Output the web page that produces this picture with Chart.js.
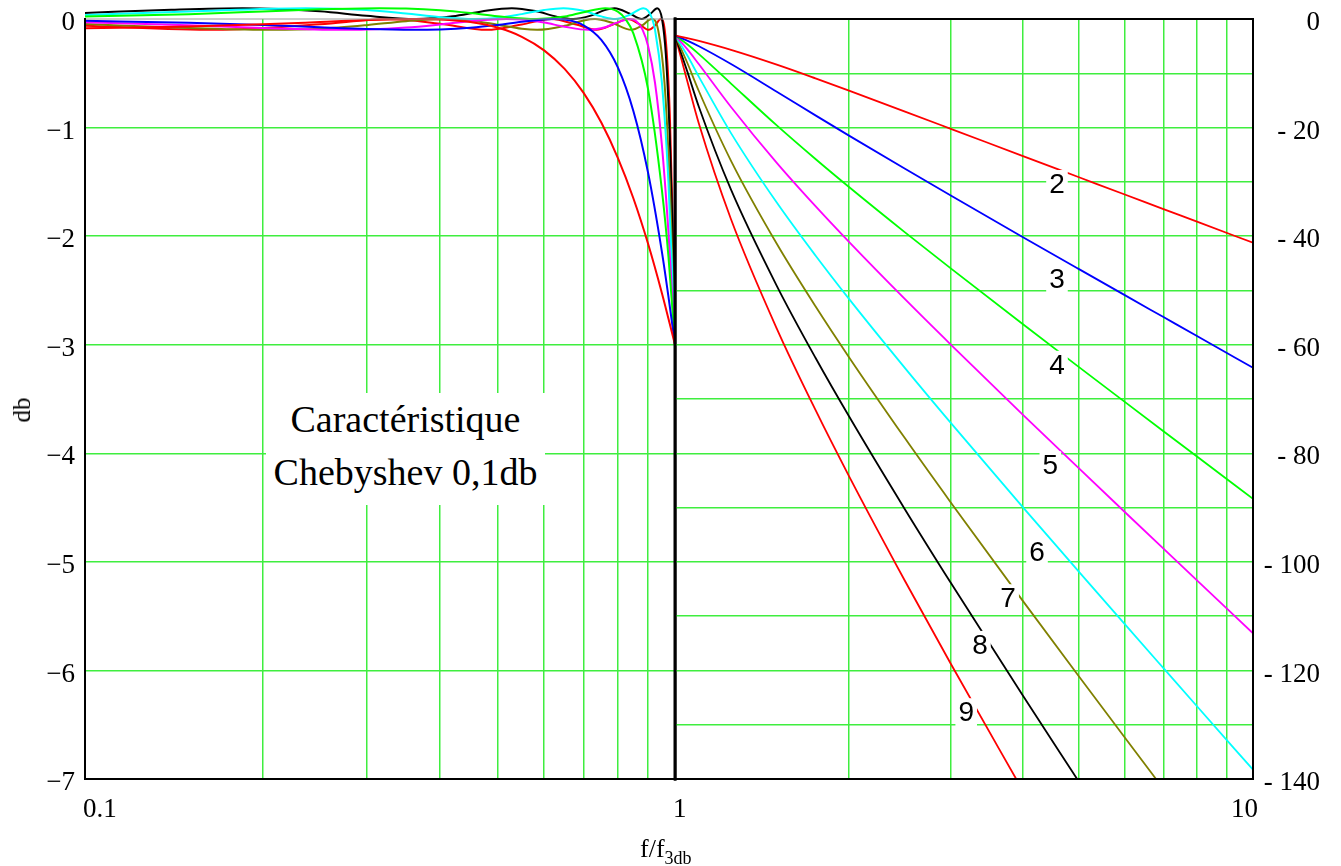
<!DOCTYPE html>
<html><head><meta charset="utf-8">
<script src="https://cdn.jsdelivr.net/npm/chart.js@4.4.1/dist/chart.umd.min.js"></script>
<style>
html,body{margin:0;padding:0;background:#fff;}
#wrap{position:relative;width:1341px;height:866px;overflow:hidden;background:#fff;}
canvas{position:absolute;top:0;}
#cl{left:0;width:700px;height:866px;}
#cr{left:674px;width:667px;height:866px;}
.t{position:absolute;font-family:'Liberation Serif','Times New Roman',serif;color:#000;white-space:nowrap;}
#note{left:266px;top:393px;width:279px;height:112px;background:#fff;text-align:center;font-size:38px;line-height:53px;}
#ytitle{left:22px;top:410px;font-size:25px;line-height:30px;transform:translate(-50%,-50%) rotate(-90deg);}
#xtitle{left:640px;top:834px;font-size:26px;line-height:30px;}
#xtitle span{font-size:18px;position:relative;top:7px;}
</style></head>
<body><div id="wrap">
<canvas id="cl" width="700" height="866"></canvas>
<canvas id="cr" width="667" height="866"></canvas>
<div class="t" id="note">Caractéristique<br>Chebyshev 0,1db</div>
<div class="t" id="ytitle">db</div>
<div class="t" id="xtitle">f/f<span>3db</span></div>
</div>
<script>
// ---------- tick values / labels ----------
const leftFreqTicks  = [0.1,0.2,0.3,0.4,0.5,0.6,0.7,0.8,0.9,1];
const leftFreqLabels = ['0.1','','','','','','','','','1'];
const leftDbTicks    = [-7,-6,-5,-4,-3,-2,-1,0];
const leftDbLabels   = ['−7','−6','−5','−4','−3','−2','−1','0'];
const rightFreqTicks  = [1,2,3,4,5,6,7,8,9,10];
const rightFreqLabels = ['','','','','','','','','','10'];
const rightDbTicks    = [0,10,20,30,40,50,60,70,80,90,100,110,120,130,140];
const rightDbLabels   = ['0','','- 20','','- 40','','- 60','','- 80','','- 100','','- 120','','- 140'];

// ---------- series (filter orders) ----------
const orders = ['2','3','4','5','6','7','8','9'];
const colors = ['#ff0000','#0000ff','#00ff00','#ff00ff','#00ffff','#808000','#000000','#ff0000'];

// left panel: f/f3db (0.1..1) and gain in dB
const fL2 = [0.1,0.15,0.2,0.25,0.3,0.364,0.4,0.45,0.5,0.55,0.6,0.65,0.7,0.75,0.8,0.85,0.9,0.95,1];
const gL2 = [-0.086,-0.069,-0.049,-0.028,-0.010,0,-0.004,-0.028,-0.079,-0.164,-0.289,-0.46,-0.681,-0.954,-1.279,-1.651,-2.068,-2.523,-3.0];
const fL3 = [0.1,0.15,0.2,0.25,0.3,0.36,0.4,0.45,0.5,0.55,0.6235,0.65,0.7,0.75,0.8,0.85,0.9,0.95,0.975,1];
const gL3 = [-0.016,-0.035,-0.055,-0.077,-0.093,-0.100,-0.096,-0.081,-0.056,-0.026,0,-0.005,-0.058,-0.193,-0.446,-0.847,-1.413,-2.142,-2.561,-3.0];
const fL4 = [0.1,0.15,0.2,0.25,0.3154,0.35,0.4,0.45,0.5,0.5828,0.65,0.7,0.7615,0.8,0.824,0.85,0.9,0.95,0.975,1];
const gL4 = [0.022,0.044,0.069,0.089,0.100,0.097,0.081,0.055,0.026,0,0.022,0.063,0.100,0.068,0,-0.133,-0.644,-1.572,-2.196,-3.0];
const fL5 = [0.1,0.15,0.2,0.2723,0.3,0.35,0.4,0.45,0.518,0.55,0.6,0.65,0.713,0.75,0.8,0.8382,0.86,0.8813,0.9,0.925,0.95,0.975,1];
const gL5 = [-0.029,-0.057,-0.083,-0.100,-0.097,-0.079,-0.050,-0.020,0,-0.005,-0.033,-0.071,-0.100,-0.086,-0.031,0,-0.020,-0.100,-0.246,-0.589,-1.160,-1.974,-3.0];
const fL6 = [0.1,0.15,0.2368,0.3,0.35,0.4,0.4575,0.5,0.55,0.6,0.647,0.7,0.75,0.7924,0.84,0.8838,0.9,0.915,0.925,0.95,0.975,1];
const gL6 = [0.037,0.070,0.100,0.082,0.050,0.017,0,0.010,0.045,0.083,0.100,0.076,0.024,0,0.041,0.100,0.078,0,-0.099,-0.581,-1.514,-3.0];
const fL7 = [0.1,0.15,0.2083,0.25,0.3,0.35,0.4063,0.45,0.5,0.55,0.5838,0.65,0.7,0.732,0.78,0.8436,0.88,0.9128,0.9363,0.96,0.98,1];
const gL7 = [-0.047,-0.082,-0.100,-0.090,-0.057,-0.020,0,-0.013,-0.052,-0.090,-0.100,-0.063,-0.013,0,-0.033,-0.100,-0.059,0,-0.100,-0.592,-1.532,-3.0];
const fL8 = [0.1,0.14,0.185,0.25,0.3,0.364,0.42,0.47,0.529,0.58,0.63,0.672,0.72,0.76,0.79,0.84,0.878,0.91,0.933,0.9507,0.965,0.98,0.99,1];
const gL8 = [0.056,0.086,0.100,0.072,0.029,0,0.025,0.070,0.100,0.073,0.022,0,0.031,0.082,0.100,0.047,0,0.051,0.100,0,-0.332,-1.101,-1.898,-3.0];
const fL9 = [0.1,0.1668,0.25,0.3286,0.4,0.4804,0.55,0.6175,0.68,0.7359,0.79,0.832,0.87,0.9028,0.925,0.946,0.9607,0.98,0.99,1];
const gL9 = [-0.063,-0.100,-0.049,0,-0.044,-0.100,-0.051,0,-0.051,-0.100,-0.045,0,-0.048,-0.100,-0.061,0,-0.100,-0.881,-1.767,-3.0];

// right panel: f/f3db (1..10) and attenuation in dB
const fR  = [1,1.05,1.1,1.25,1.5,1.75,2,2.5,3,4,5,6,7,8,10];
const aR2 = [3.01,3.52,4.05,5.70,8.42,10.94,13.20,17.05,20.23,25.26,29.15,32.33,35.01,37.34,41.22];
const aR3 = [3.01,3.99,5.03,8.30,13.40,17.75,21.48,27.60,32.52,40.19,46.08,50.87,54.91,58.41,64.24];
const aR4 = [3.01,4.66,6.46,11.89,19.60,25.79,30.95,39.30,45.94,56.24,64.13,70.53,75.93,80.60,88.39];
const aR5 = [3.01,5.55,8.34,16.21,26.51,34.49,41.06,51.62,59.98,72.91,82.79,90.82,97.58,103.42,113.15];
const aR6 = [3.01,6.69,10.65,21.02,33.82,43.57,51.56,64.31,74.40,89.95,101.83,111.48,119.59,126.60,138.29];
const aR7 = [3.01,8.06,13.31,26.12,41.40,52.91,62.29,77.25,89.05,107.23,121.11,132.36,141.83];
const aR8 = [3.01,9.65,16.21,31.44,49.15,62.41,73.19,90.34,103.86,124.66,140.53];
const aR9 = [3.01,11.43,19.31,36.89,57.03,72.02,84.20,103.53,118.77,142.19];

// curve number labels (anchored in right-panel data coordinates)
const labelText = ['2','3','4','5','6','7','8','9'];
const labelF    = [4.58,4.58,4.58,4.46,4.23,3.77,3.37,3.19];
const labelDb   = [30.4,47.9,63.7,82.2,98.2,106.7,115.3,127.7];

// ---------- build ----------
const GRID = '#3fee3f';
const SERIF = "'Liberation Serif','Times New Roman',serif";
const leftF = [fL2,fL3,fL4,fL5,fL6,fL7,fL8,fL9];
const leftG = [gL2,gL3,gL4,gL5,gL6,gL7,gL8,gL9];
const rightA = [aR2,aR3,aR4,aR5,aR6,aR7,aR8,aR9];

function makeFrame(edges){
  return {
    id:'frame',
    afterDatasetsDraw(chart){
      const a = chart.chartArea, ctx = chart.ctx;
      ctx.save();
      edges.forEach(([side,color,w])=>{
        ctx.beginPath(); ctx.strokeStyle=color; ctx.lineWidth=w; ctx.lineCap='square';
        if(side==='top'){ctx.moveTo(a.left,a.top);ctx.lineTo(a.right,a.top);}
        if(side==='bottom'){ctx.moveTo(a.left,a.bottom);ctx.lineTo(a.right,a.bottom);}
        if(side==='left'){ctx.moveTo(a.left,a.top);ctx.lineTo(a.left,a.bottom);}
        if(side==='right'){ctx.moveTo(a.right,a.top);ctx.lineTo(a.right,a.bottom);}
        ctx.stroke();
      });
      ctx.restore();
    }
  };
}

const curveLabels = {
  id:'curveLabels',
  afterDatasetsDraw(chart){
    const ctx = chart.ctx, xs = chart.scales.x, ys = chart.scales.y;
    ctx.save();
    ctx.font = "28px 'Liberation Sans', Arial, sans-serif";
    ctx.textAlign='center'; ctx.textBaseline='middle';
    labelText.forEach((t,i)=>{
      const px = xs.getPixelForValue(labelF[i]), py = ys.getPixelForValue(labelDb[i]);
      const w = ctx.measureText(t).width;
      ctx.fillStyle='#fff'; ctx.fillRect(px-w/2-3, py-14, w+6, 28);
      ctx.fillStyle='#000'; ctx.fillText(t, px, py+1);
    });
    ctx.restore();
  }
};

function gridColor(hidden){
  return c => (c.tick && hidden.includes(c.tick.value)) ? 'rgba(0,0,0,0)' : GRID;
}
function noPad(s){ s.paddingTop=0; s.paddingBottom=0; s.paddingLeft=0; s.paddingRight=0; }
const tickFont = {family:SERIF, size:27};

new Chart(document.getElementById('cl'), {
  type:'line',
  data:{datasets: orders.map((o,k)=>({
    label:'n='+o,
    data: leftF[k].map((f,i)=>({x:f, y:leftG[k][i]})),
    borderColor: colors[k], borderWidth:2, pointRadius:0, fill:false,
    cubicInterpolationMode:'monotone', clip:15
  }))},
  options:{
    responsive:false, animation:false, devicePixelRatio:1, events:[],
    layout:{padding:{left:0,right:25,top:19,bottom:0}},
    plugins:{legend:{display:false}, tooltip:{enabled:false}},
    scales:{
      x:{type:'logarithmic', min:0.1, max:1,
        afterBuildTicks:s=>{s.ticks = leftFreqTicks.map(v=>({value:v}));},
        afterFit:s=>{s.height=87; noPad(s);},
        grid:{drawTicks:false, color:gridColor([0.1,1]), lineWidth:1.5},
        border:{display:false},
        ticks:{autoSkip:false, maxRotation:0, minRotation:0, align:'start', padding:15, labelOffset:-2, color:'#000', font:tickFont,
          callback:(v,i)=>leftFreqLabels[i] ?? ''}},
      y:{type:'linear', min:-7, max:0,
        afterBuildTicks:s=>{s.ticks = leftDbTicks.map(v=>({value:v}));},
        afterFit:s=>{s.width=85; noPad(s);},
        grid:{drawTicks:false, color:gridColor([0,-7]), lineWidth:1.5},
        border:{display:false},
        ticks:{autoSkip:false, padding:10, labelOffset:4, color:'#000', font:tickFont,
          callback:(v,i)=>leftDbLabels[i] ?? ''}}
    }
  },
  plugins:[makeFrame([['top','#9a9a9a',1],['left','#000',2],['bottom','#000',2],['right','#000',3]])]
});

new Chart(document.getElementById('cr'), {
  type:'line',
  data:{datasets: orders.map((o,k)=>({
    label:'n='+o,
    data: rightA[k].map((a,i)=>({x:fR[i], y:a})),
    borderColor: colors[k], borderWidth:1.8, pointRadius:0, fill:false,
    cubicInterpolationMode:'monotone'
  }))},
  options:{
    responsive:false, animation:false, devicePixelRatio:1, events:[],
    layout:{padding:{left:1,right:21,top:19,bottom:0}},
    plugins:{legend:{display:false}, tooltip:{enabled:false}},
    scales:{
      x:{type:'logarithmic', min:1, max:10,
        afterBuildTicks:s=>{s.ticks = rightFreqTicks.map(v=>({value:v}));},
        afterFit:s=>{s.height=87; noPad(s);},
        grid:{drawTicks:false, color:gridColor([1,10]), lineWidth:1.5},
        border:{display:false},
        ticks:{autoSkip:false, maxRotation:0, minRotation:0, align:'end', padding:15, labelOffset:5, color:'#000', font:tickFont,
          callback:(v,i)=>rightFreqLabels[i] ?? ''}},
      y:{type:'linear', position:'right', min:0, max:140, reverse:true,
        afterBuildTicks:s=>{s.ticks = rightDbTicks.map(v=>({value:v}));},
        afterFit:s=>{s.width=67; noPad(s);},
        grid:{drawTicks:false, color:gridColor([0,140]), lineWidth:1.5},
        border:{display:false},
        ticks:{autoSkip:false, padding:11, labelOffset:4, crossAlign:'far', color:'#000', font:tickFont,
          callback:(v,i)=>rightDbLabels[i] ?? ''}}
    }
  },
  plugins:[curveLabels, makeFrame([['top','#000',2],['right','#000',2],['bottom','#000',2],['left','#000',3]])]
});
</script>
</body></html>
